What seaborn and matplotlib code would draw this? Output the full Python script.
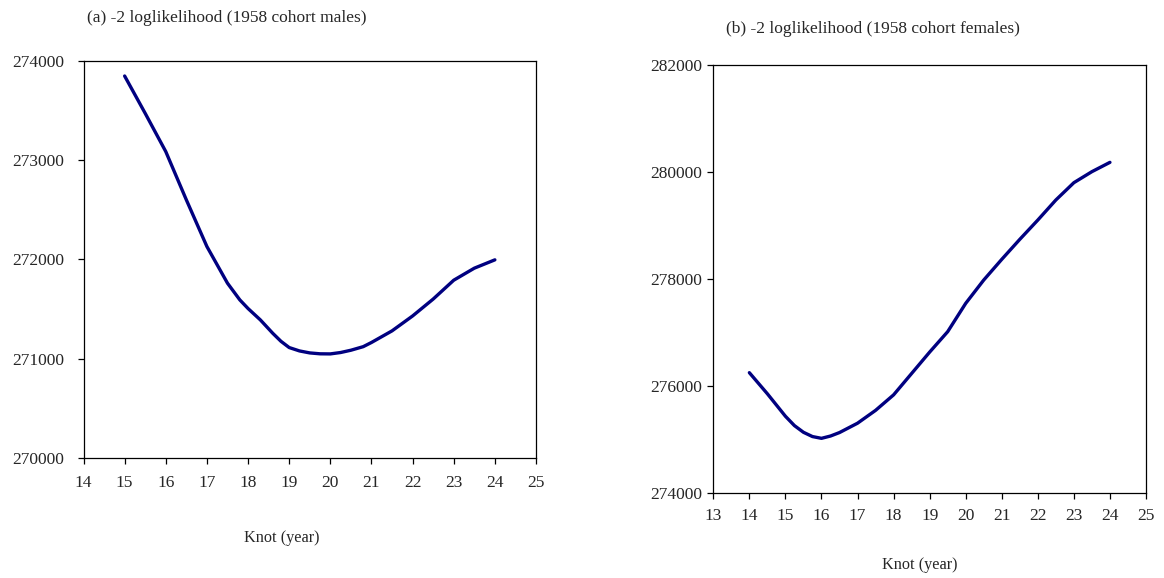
import matplotlib
matplotlib.use("Agg")
import matplotlib.pyplot as plt
import numpy as np
import pandas as pd
import seaborn as sns

# knot positions (years) and -2 loglikelihood
knot_m = [15, 15.5, 16, 16.5, 17, 17.5, 17.8, 18, 18.3, 18.6, 18.8, 19, 19.25, 19.5, 19.75, 20,
          20.25, 20.5, 20.8, 21, 21.5, 22, 22.5, 23, 23.5, 24]
ll_m = [273846, 273470, 273085, 272599, 272129, 271760, 271592, 271505, 271390, 271256, 271175,
        271112, 271078, 271058, 271049, 271048, 271062, 271085, 271121, 271163, 271280, 271430,
        271600, 271790, 271911, 271995]

knot_f = [14, 14.5, 15, 15.25, 15.5, 15.75, 16, 16.25, 16.5, 17, 17.5, 18, 18.5, 19, 19.5,
          20, 20.5, 21, 21.5, 22, 22.5, 23, 23.5, 24]
ll_f = [276245, 275850, 275430, 275255, 275130, 275050, 275017, 275060, 275125, 275300, 275540,
        275830, 276230, 276630, 277012, 277542, 277978, 278365, 278739, 279100, 279475, 279799,
        280005, 280179]

titles = ["(a) -2 loglikelihood (1958 cohort males)", "(b) -2 loglikelihood (1958 cohort females)"]
xlabel = "Knot (year)"

sns.set_style("ticks")
plt.rcParams['font.family'] = ['Liberation Serif', 'DejaVu Serif']

fig = plt.figure(figsize=(11.64, 5.78), dpi=100)
W, H = 1164, 578

def add_ax(l, t, r, b):
    return fig.add_axes([l / W, 1 - b / H, (r - l) / W, (b - t) / H])

ax1 = add_ax(83.5, 60.7, 536, 458)
ax2 = add_ax(713.3, 65, 1146, 492.7)

df_m = pd.DataFrame({'knot': knot_m, 'll': ll_m})
df_f = pd.DataFrame({'knot': knot_f, 'll': ll_f})

line_kw = dict(color='#000080', lw=2.4, solid_joinstyle='round', solid_capstyle='round')
sns.lineplot(data=df_m, x='knot', y='ll', ax=ax1, **line_kw)
sns.lineplot(data=df_f, x='knot', y='ll', ax=ax2, **line_kw)

ax1.set_xlim(14, 25)
ax1.set_ylim(270000, 274000)
ax1.set_xticks(range(14, 26))
ax1.set_yticks([270000, 271000, 272000, 273000, 274000])

ax2.set_xlim(13, 25)
ax2.set_ylim(274000, 282000)
ax2.set_xticks(range(13, 26))
ax2.set_yticks([274000, 276000, 278000, 280000, 282000])

for ax in (ax1, ax2):
    ax.set_xlabel("")
    ax.set_ylabel("")
    for s in ax.spines.values():
        s.set_visible(True)
        s.set_color('black')
        s.set_linewidth(0.9)
    ax.tick_params(direction='out', length=4, width=0.9, color='black', labelsize=12.5)
    ax.yaxis.set_major_formatter(matplotlib.ticker.FormatStrFormatter('%d'))

ax1.tick_params(axis='y', pad=10)
ax1.tick_params(axis='x', pad=8)
ax2.tick_params(axis='y', pad=4)
ax2.tick_params(axis='x', pad=7)

fig.text(227 / W, 1 - 18 / H, titles[0], ha='center', va='center', fontsize=12.5)
fig.text(873 / W, 1 - 29 / H, titles[1], ha='center', va='center', fontsize=12.5)
fig.text(282 / W, 1 - 538 / H, xlabel, ha='center', va='center', fontsize=11.7)
fig.text(920 / W, 1 - 565 / H, xlabel, ha='center', va='center', fontsize=11.7)

fig.savefig("out.png", dpi=100)
